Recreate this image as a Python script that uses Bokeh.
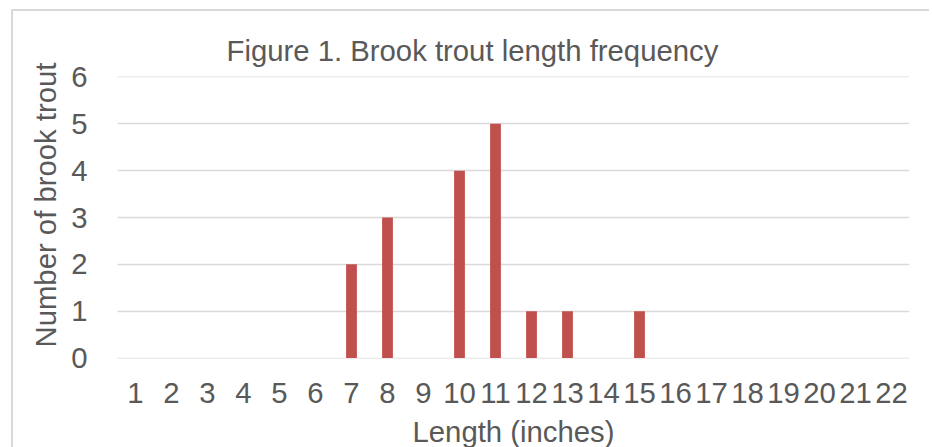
from bokeh.plotting import figure
from bokeh.models import Range1d, FixedTicker, Title, ColumnDataSource
from bokeh.embed import file_html
from bokeh.resources import INLINE

# ---- data ----
lengths = list(range(1, 23))
counts = [0, 0, 0, 0, 0, 0, 2, 3, 0, 4, 5, 1, 1, 0, 1, 0, 0, 0, 0, 0, 0, 0]
y_ticks = [0, 1, 2, 3, 4, 5, 6]
title_text = "Figure 1. Brook trout length frequency"
x_label = "Length (inches)"
y_label = "Number of brook trout"

FONT = "Liberation Sans"
TXT = "#595959"
GRID = "#d9d9d9"
BAR = "#c0504d"
FS = "29.3px"

p = figure(
    output_backend="svg",
    toolbar_location=None,
    frame_width=792,
    frame_height=282,
    min_border_left=104,
    min_border_right=22,
    min_border_top=65,
    min_border_bottom=80,
    x_range=Range1d(0.5, 22.5),
    y_range=Range1d(-0.01, 6.01),
)
# chart-area border (left/top visible in the reference) drawn as an outer shadow
p.styles = {
    "margin-left": "13px",
    "margin-top": "11px",
    "box-shadow": "-2px -2px 0 0 #d9d9d9",
}

src = ColumnDataSource(dict(x=lengths, top=counts))
p.vbar(x="x", top="top", bottom=0, width=0.3, source=src,
       fill_color=BAR, line_color=None)

# title
t = Title(text=title_text, align="left", offset=109, standoff=20,
          text_font=FONT, text_font_size=FS, text_font_style="normal",
          text_color=TXT)
p.add_layout(t, "above")

# y axis title
yt = Title(text=y_label, align="left", offset=11, standoff=14,
           text_font=FONT, text_font_size=FS, text_font_style="normal",
           text_color=TXT)
p.add_layout(yt, "left")

# grid
p.xgrid.grid_line_color = None
p.ygrid.grid_line_color = GRID
p.ygrid.grid_line_width = 1.5
p.outline_line_color = None
p.background_fill_color = "white"
p.border_fill_color = "white"

# x axis
xa = p.xaxis[0]
xa.ticker = FixedTicker(ticks=lengths)
xa.axis_line_color = None
xa.major_tick_line_color = None
xa.minor_tick_line_color = None
xa.major_label_text_font = FONT
xa.major_label_text_font_size = FS
xa.major_label_text_color = TXT
xa.major_label_standoff = 18
xa.axis_label = x_label
xa.axis_label_text_font = FONT
xa.axis_label_text_font_size = FS
xa.axis_label_text_font_style = "normal"
xa.axis_label_text_color = TXT
xa.axis_label_standoff = 9

# y axis
ya = p.yaxis[0]
ya.ticker = FixedTicker(ticks=y_ticks)
ya.axis_line_color = None
ya.major_tick_line_color = None
ya.minor_tick_line_color = None
ya.major_label_text_font = FONT
ya.major_label_text_font_size = FS
ya.major_label_text_color = TXT
ya.major_label_standoff = 24

open("out.html", "w").write(file_html(p, INLINE))
